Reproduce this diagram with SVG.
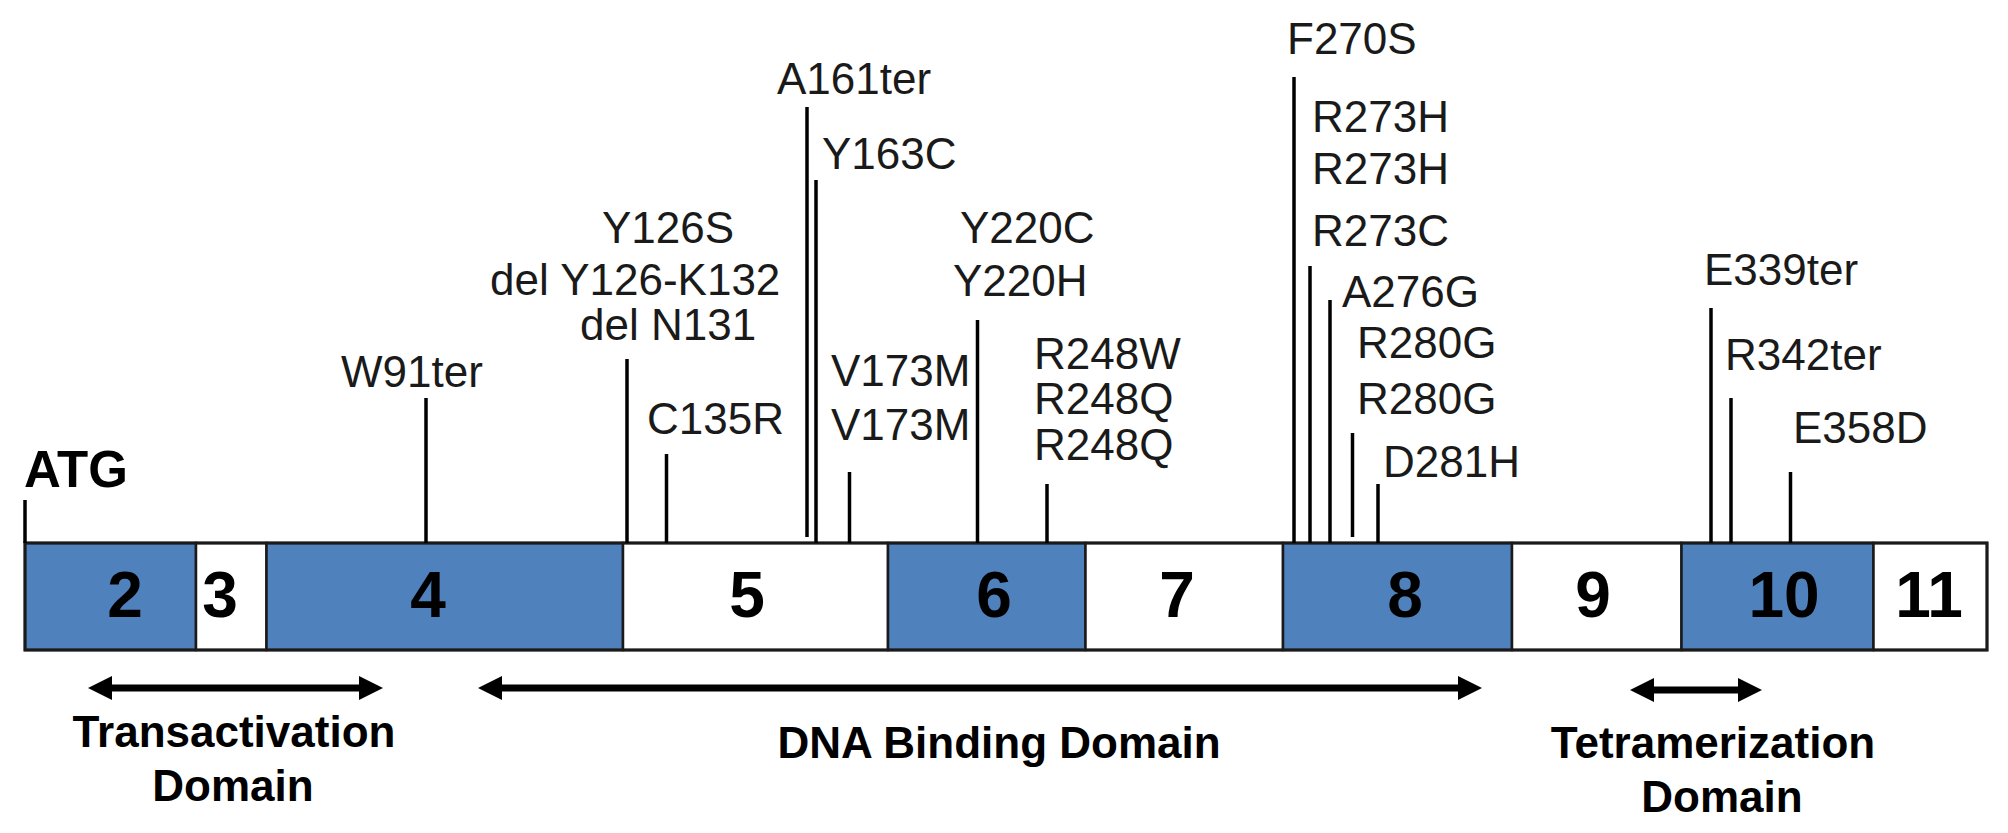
<svg xmlns="http://www.w3.org/2000/svg" width="2008" height="833" viewBox="0 0 2008 833">
<style>
  .bg { fill: #ffffff; }
  .exb { fill: #4F81BD; stroke: #1a1a1a; stroke-width: 2.5; }
  .exw { fill: #ffffff; stroke: #1a1a1a; stroke-width: 2.5; }
  .num { font-family: "Liberation Sans", Arial, sans-serif; font-weight: bold; font-size: 64px; fill: #000; text-anchor: middle; }
  .mut { font-family: "Liberation Sans", Arial, sans-serif; font-size: 44px; fill: #1a1a1a; }
  .atg { font-family: "Liberation Sans", Arial, sans-serif; font-weight: bold; font-size: 51px; fill: #000; }
  .dom { font-family: "Liberation Sans", Arial, sans-serif; font-weight: bold; font-size: 44px; fill: #000; text-anchor: middle; }
  .stick { stroke: #000; stroke-width: 3.5; fill: none; }
  .span { stroke: #000; stroke-width: 7; fill: none; marker-start: url(#head); marker-end: url(#head); }
</style>
<defs>
  <marker id="head" markerUnits="userSpaceOnUse" markerWidth="26" markerHeight="26" refX="4" refY="12" orient="auto-start-reverse">
    <path d="M0,0 L24,12 L0,24 Z" fill="#000"/>
  </marker>
</defs>
<rect class="bg" x="0" y="0" width="2008" height="833"/>

<g id="exons">
  <g id="exon2"><rect class="exb" x="25" y="543" width="171" height="107"/><text class="num" x="125" y="617">2</text></g>
  <g id="exon3"><rect class="exw" x="196" y="543" width="70.5" height="107"/><text class="num" x="220" y="617">3</text></g>
  <g id="exon4"><rect class="exb" x="266.5" y="543" width="356.5" height="107"/><text class="num" x="428" y="617">4</text></g>
  <g id="exon5"><rect class="exw" x="623" y="543" width="265" height="107"/><text class="num" x="747" y="617">5</text></g>
  <g id="exon6"><rect class="exb" x="888" y="543" width="197.5" height="107"/><text class="num" x="994" y="617">6</text></g>
  <g id="exon7"><rect class="exw" x="1085.5" y="543" width="197.5" height="107"/><text class="num" x="1177" y="617">7</text></g>
  <g id="exon8"><rect class="exb" x="1283" y="543" width="229" height="107"/><text class="num" x="1405" y="617">8</text></g>
  <g id="exon9"><rect class="exw" x="1512" y="543" width="169.5" height="107"/><text class="num" x="1593" y="617">9</text></g>
  <g id="exon10"><rect class="exb" x="1681.5" y="543" width="192" height="107"/><text class="num" x="1784" y="617">10</text></g>
  <g id="exon11"><rect class="exw" x="1873.5" y="543" width="113.5" height="107"/><text class="num" x="1929" y="617">11</text></g>
  <rect x="25" y="543" width="1962" height="107" fill="none" stroke="#1a1a1a" stroke-width="3"/>
</g>

<g id="connectors">
  <line class="stick" x1="25" y1="500" x2="25" y2="543"/>
  <line class="stick" x1="426" y1="398" x2="426" y2="543"/>
  <line class="stick" x1="627" y1="359" x2="627" y2="543"/>
  <line class="stick" x1="666.5" y1="454" x2="666.5" y2="543"/>
  <line class="stick" x1="807" y1="107" x2="807" y2="537"/>
  <line class="stick" x1="816" y1="180" x2="816" y2="543"/>
  <line class="stick" x1="849.5" y1="472" x2="849.5" y2="543"/>
  <line class="stick" x1="977.5" y1="320" x2="977.5" y2="543"/>
  <line class="stick" x1="1047" y1="484" x2="1047" y2="543"/>
  <line class="stick" x1="1294" y1="77" x2="1294" y2="543"/>
  <line class="stick" x1="1310" y1="266" x2="1310" y2="543"/>
  <line class="stick" x1="1330" y1="300" x2="1330" y2="543"/>
  <line class="stick" x1="1352.5" y1="433" x2="1352.5" y2="537"/>
  <line class="stick" x1="1378" y1="484" x2="1378" y2="543"/>
  <line class="stick" x1="1711" y1="308" x2="1711" y2="543"/>
  <line class="stick" x1="1731" y1="398" x2="1731" y2="543"/>
  <line class="stick" x1="1790.5" y1="472" x2="1790.5" y2="543"/>
</g>

<g id="atg"><text class="atg" x="24" y="487">ATG</text></g>

<g id="mutations">
  <g id="m-W91"><text class="mut" x="341" y="387">W91ter</text></g>
  <g id="m-Y126">
    <text class="mut" x="602" y="243">Y126S</text>
    <text class="mut" x="490" y="295">del Y126-K132</text>
    <text class="mut" x="580" y="340">del N131</text>
  </g>
  <g id="m-C135"><text class="mut" x="647" y="434">C135R</text></g>
  <g id="m-A161"><text class="mut" x="777" y="94">A161ter</text></g>
  <g id="m-Y163"><text class="mut" x="822" y="169">Y163C</text></g>
  <g id="m-V173">
    <text class="mut" x="831" y="386">V173M</text>
    <text class="mut" x="831" y="440">V173M</text>
  </g>
  <g id="m-Y220">
    <text class="mut" x="960" y="243">Y220C</text>
    <text class="mut" x="953" y="296">Y220H</text>
  </g>
  <g id="m-R248">
    <text class="mut" x="1034" y="369">R248W</text>
    <text class="mut" x="1034" y="414">R248Q</text>
    <text class="mut" x="1034" y="460">R248Q</text>
  </g>
  <g id="m-F270"><text class="mut" x="1287" y="54">F270S</text></g>
  <g id="m-R273">
    <text class="mut" x="1312" y="132">R273H</text>
    <text class="mut" x="1312" y="184">R273H</text>
    <text class="mut" x="1312" y="246">R273C</text>
  </g>
  <g id="m-A276"><text class="mut" x="1342" y="307">A276G</text></g>
  <g id="m-R280">
    <text class="mut" x="1357" y="358">R280G</text>
    <text class="mut" x="1357" y="414">R280G</text>
  </g>
  <g id="m-D281"><text class="mut" x="1383" y="477">D281H</text></g>
  <g id="m-E339"><text class="mut" x="1704" y="285">E339ter</text></g>
  <g id="m-R342"><text class="mut" x="1725" y="370">R342ter</text></g>
  <g id="m-E358"><text class="mut" x="1793" y="443">E358D</text></g>
</g>

<g id="domains">
  <g id="dom-trans">
    <line class="span" x1="108" y1="688" x2="363" y2="688"/>
    <text class="dom" x="234" y="747">Transactivation</text>
    <text class="dom" x="233" y="801">Domain</text>
  </g>
  <g id="dom-dna">
    <line class="span" x1="498" y1="688" x2="1462" y2="688"/>
    <text class="dom" x="999" y="758">DNA Binding Domain</text>
  </g>
  <g id="dom-tetra">
    <line class="span" x1="1650" y1="690" x2="1742" y2="690"/>
    <text class="dom" x="1713" y="758">Tetramerization</text>
    <text class="dom" x="1722" y="812">Domain</text>
  </g>
</g>
</svg>
